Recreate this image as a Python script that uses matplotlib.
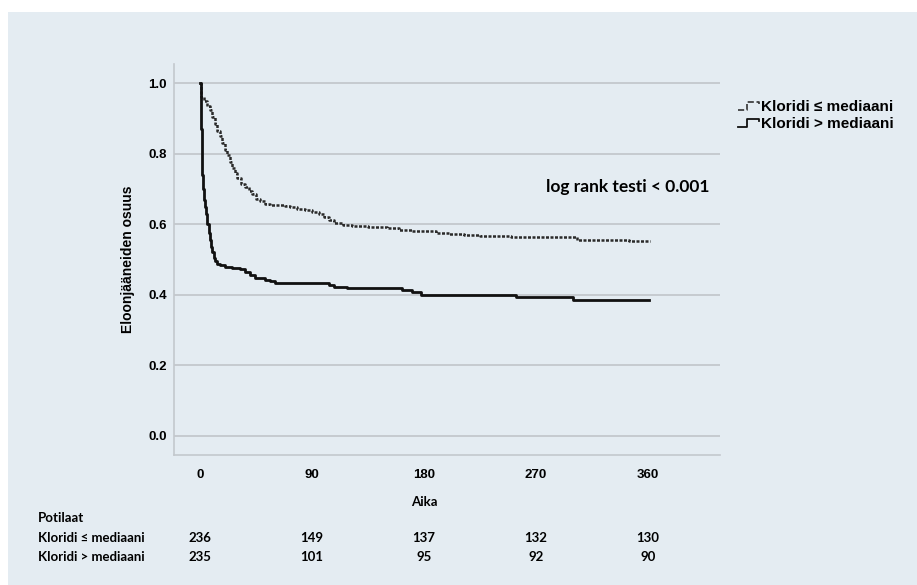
import matplotlib
matplotlib.use("Agg")
import matplotlib.pyplot as plt
import matplotlib.transforms as mtransforms
from matplotlib.legend_handler import HandlerBase
from matplotlib.lines import Line2D
from matplotlib.patches import Rectangle

# survival curves (change points, step "post")
low_t = [0, 0.5, 1, 1.5, 2, 2.5, 3, 4, 5, 6, 7, 8, 9, 10, 11, 12, 14, 16, 20, 26,
         32, 36, 40, 44, 52, 56, 60, 104, 108, 118, 155, 162, 170, 178, 238, 254,
         300, 361]
low_s = [1.0, 0.93, 0.87, 0.80, 0.74, 0.70, 0.67, 0.65, 0.63, 0.60, 0.575, 0.555,
         0.535, 0.52, 0.505, 0.495, 0.487, 0.483, 0.48, 0.477, 0.472, 0.465, 0.455,
         0.447, 0.443, 0.438, 0.432, 0.428, 0.422, 0.42, 0.418, 0.413, 0.408, 0.40,
         0.398, 0.394, 0.386, 0.386]

high_t = [0, 1, 3, 6, 8, 10, 12, 14, 16, 18, 20, 22, 24, 26, 28, 30, 33, 36, 39,
          42, 45, 48, 52, 56, 68, 72, 78, 84, 90, 96, 100, 104, 108, 115, 122, 135,
          150, 160, 170, 180, 190, 200, 212, 225, 250, 303, 345, 362]
high_s = [1.0, 0.96, 0.95, 0.935, 0.925, 0.905, 0.885, 0.865, 0.85, 0.83, 0.81,
          0.795, 0.775, 0.76, 0.745, 0.73, 0.715, 0.705, 0.695, 0.685, 0.672, 0.665,
          0.658, 0.655, 0.652, 0.648, 0.643, 0.64, 0.635, 0.628, 0.62, 0.612, 0.604,
          0.598, 0.595, 0.592, 0.59, 0.585, 0.582, 0.58, 0.576, 0.572, 0.57, 0.568,
          0.565, 0.556, 0.553, 0.553]

groups = ["Kloridi ≤ mediaani", "Kloridi > mediaani"]
xticks = [0, 90, 180, 270, 360]
yticks = [0.0, 0.2, 0.4, 0.6, 0.8, 1.0]
at_risk_low = [236, 149, 137, 132, 130]   # Kloridi ≤ mediaani
at_risk_high = [235, 101, 95, 92, 90]     # Kloridi > mediaani

BG = "#e4ecf2"
GRID = "#c3c8cd"
W, H = 917, 585

fig = plt.figure(figsize=(W / 100, H / 100), dpi=100)
fig.patch.set_facecolor("white")
fig.patches.append(Rectangle((8 / W, 0), 1, 1 - 12 / H, transform=fig.transFigure,
                             facecolor=BG, edgecolor="none", zorder=-10))

ax = fig.add_axes([174 / W, (H - 455) / H, (720 - 174) / W, (455 - 64) / H])
ax.set_facecolor(BG)
ax.set_xlim(-20.9, 417.9)
ax.set_ylim(-0.054, 1.054)

for s in ["top", "right"]:
    ax.spines[s].set_visible(False)
for s in ["left", "bottom"]:
    ax.spines[s].set_color(GRID)
    ax.spines[s].set_linewidth(1.2)

ax.set_yticks(yticks)
ax.set_yticklabels([f"{v:.1f}" for v in yticks])
ax.set_xticks(xticks)
ax.set_xticklabels([str(v) for v in xticks])
ax.tick_params(length=0, labelsize=9.5)
for lab in ax.get_xticklabels() + ax.get_yticklabels():
    lab.set_fontfamily("Liberation Sans")
    lab.set_fontweight("bold")
ax.tick_params(axis="x", pad=10)
ax.tick_params(axis="y", pad=5)

for v in yticks:
    ax.axhline(v, color=GRID, lw=1.3, zorder=0)

ax.step(high_t, high_s, where="post", color="#2a2a2a", lw=1.8,
        linestyle=(0, (1.2, 0.6)), zorder=3)
ax.step(low_t, low_s, where="post", color="#111111", lw=2.0, zorder=3)

ax.set_ylabel("Eloonjääneiden osuus", fontfamily="Liberation Sans",
              fontweight="bold", fontsize=10, labelpad=10)

fig.text(710 / W, 1 - 187 / H, "log rank testi < 0.001", ha="right", va="center",
         fontsize=12.5, fontweight="bold", family=["Lato", "DejaVu Sans"])


class StepHandler(HandlerBase):
    def create_artists(self, legend, orig_handle, xdescent, ydescent, width,
                       height, fontsize, trans):
        x0, y0 = -xdescent, -ydescent
        xs = [x0, x0 + 0.45 * width, x0 + 0.45 * width, x0 + width, x0 + width]
        ys = [y0 + 0.1 * height, y0 + 0.1 * height, y0 + 0.85 * height,
              y0 + 0.85 * height, y0 + 0.6 * height]
        ln = Line2D(xs, ys, color=orig_handle.get_color(),
                    linestyle=orig_handle.get_linestyle(),
                    lw=orig_handle.get_linewidth(), transform=trans)
        return [ln]


h1 = Line2D([], [], color="#333333", lw=1.2, linestyle=(0, (1.0, 0.8)))
h2 = Line2D([], [], color="#111111", lw=1.3)
leg = fig.legend([h1, h2], groups, loc="upper left",
                 bbox_to_anchor=(727 / W, 1 - 89 / H), frameon=False,
                 handler_map={Line2D: StepHandler()}, handlelength=1.4,
                 handletextpad=0.1, labelspacing=0.2, borderpad=0.2,
                 prop={"family": "Liberation Sans", "weight": "bold", "size": 11})

# number-at-risk table below the axis
tbl = mtransforms.blended_transform_factory(ax.transData, fig.transFigure)
font_t = {"family": ["Lato", "DejaVu Sans"], "weight": "bold", "size": 9.5}
fig.text(424 / W, 1 - 502 / H, "Aika", ha="center", va="center", **font_t)
fig.text(38 / W, 1 - 518 / H, "Potilaat", ha="left", va="center", **font_t)
fig.text(38 / W, 1 - 538 / H, groups[0], ha="left", va="center", **font_t)
fig.text(38 / W, 1 - 557 / H, groups[1], ha="left", va="center", **font_t)
for x, a, b in zip(xticks, at_risk_low, at_risk_high):
    ax.text(x, 1 - 538 / H, str(a), transform=tbl, ha="center", va="center", **font_t)
    ax.text(x, 1 - 557 / H, str(b), transform=tbl, ha="center", va="center", **font_t)

fig.savefig("out.png", dpi=100, facecolor=fig.get_facecolor())
